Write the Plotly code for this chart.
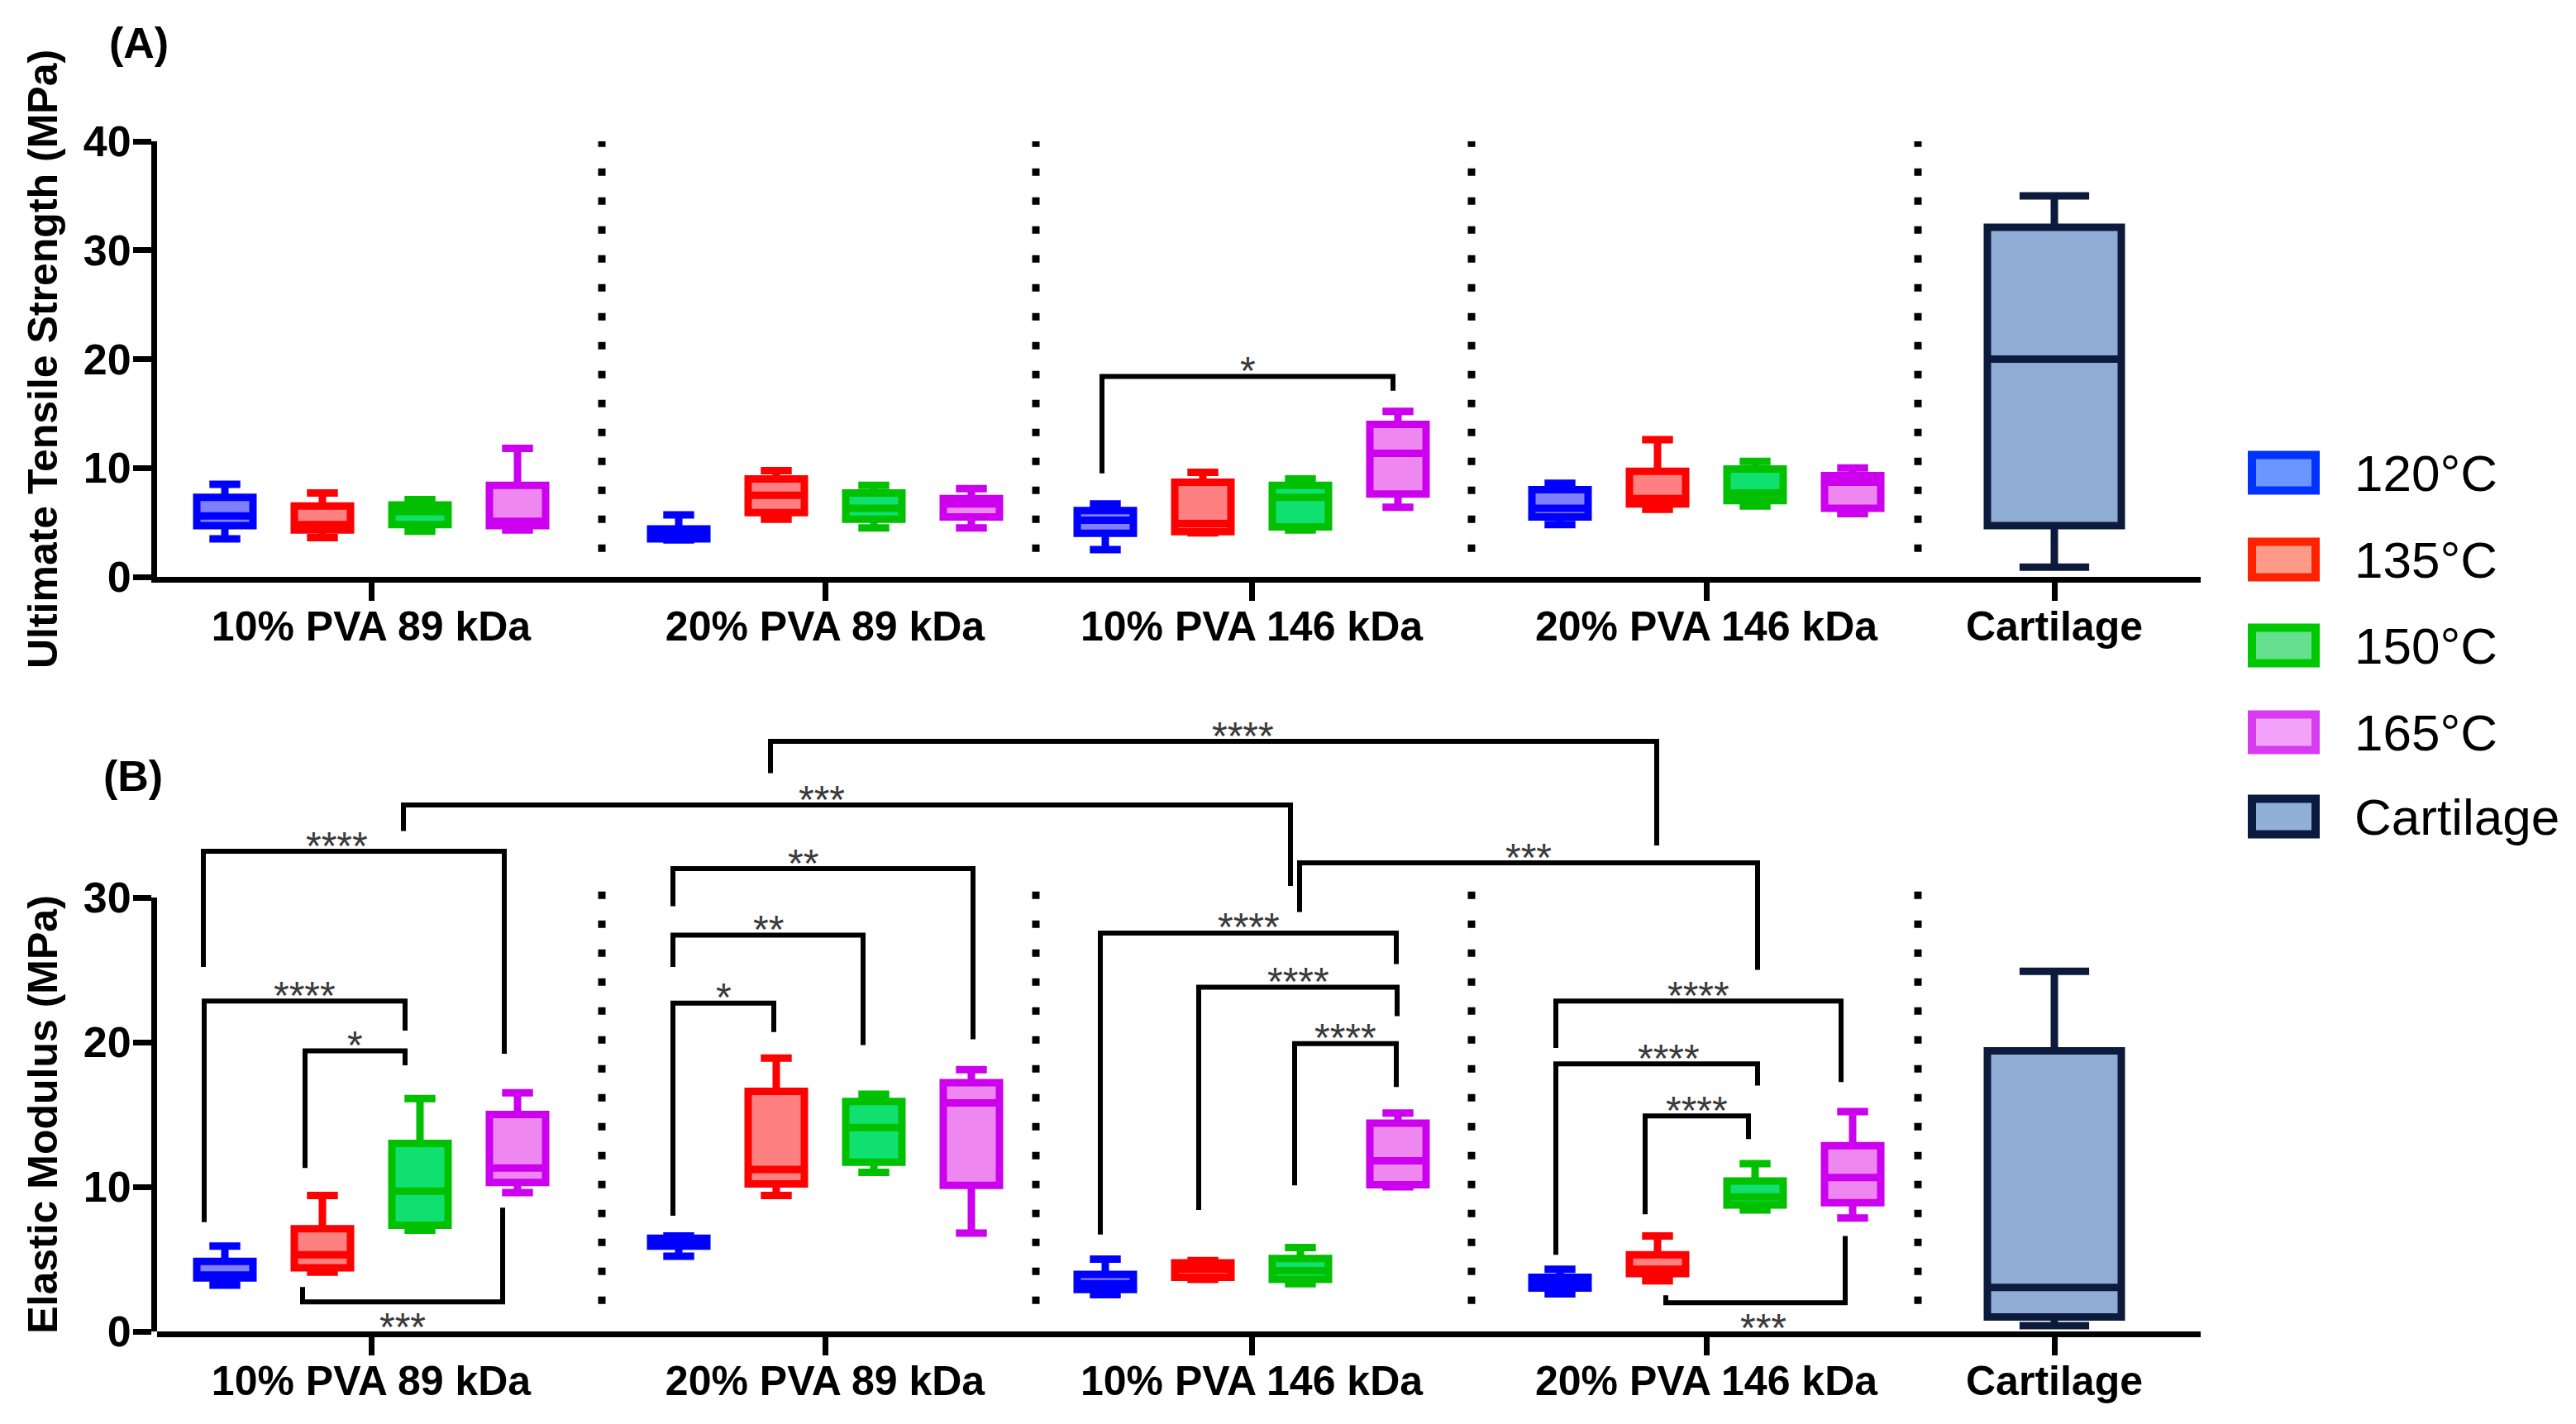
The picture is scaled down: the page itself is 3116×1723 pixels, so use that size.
import plotly.graph_objects as go

W, H = 3116, 1723

# ---------------- data ----------------
GROUPS = ["10% PVA 89 kDa", "20% PVA 89 kDa", "10% PVA 146 kDa", "20% PVA 146 kDa"]
TEMPS = ["120°C", "135°C", "150°C", "165°C"]

# Panel A: Ultimate Tensile Strength (MPa); rows = temperatures, cols = groups
UTS_MIN = [[3.5, 3.4, 2.5, 4.8], [3.6, 5.3, 4.05, 6.2], [4.2, 4.5, 4.3, 6.5], [4.3, 4.5, 6.4, 5.8]]
UTS_Q1 = [[4.7, 3.5, 4.0, 5.5], [4.3, 5.9, 4.15, 6.7], [4.8, 5.3, 4.6, 7.0], [4.7, 5.5, 7.6, 6.3]]
UTS_MED = [[5.6, 3.9, 5.2, 6.3], [4.8, 7.5, 4.9, 7.2], [6.0, 6.3, 7.3, 7.7], [5.1, 6.7, 11.35, 8.7]]
UTS_Q3 = [[7.3, 4.4, 6.1, 8.0], [6.5, 9.0, 8.7, 9.7], [6.6, 7.7, 8.4, 9.9], [8.4, 7.2, 14.0, 9.3]]
UTS_MAX = [[8.5, 5.7, 6.7, 8.6], [7.7, 9.75, 9.6, 12.6], [7.1, 8.4, 9.0, 10.6], [11.8, 8.1, 15.2, 10.0]]
UTS_CART = {"min": 0.9, "q1": 4.7, "med": 20.0, "q3": 32.1, "max": 35.0}

# Panel B: Elastic Modulus (MPa)
EM_MIN = [[3.2, 5.2, 2.55, 2.6], [4.1, 9.4, 3.6, 3.5], [7.0, 11.0, 3.3, 8.4], [9.6, 6.8, 10.0, 7.85]]
EM_Q1 = [[3.7, 5.9, 2.9, 3.0], [4.4, 10.2, 3.75, 4.0], [7.35, 11.7, 3.6, 8.75], [10.3, 10.1, 10.15, 8.9]]
EM_MED = [[3.9, 6.1, 3.3, 3.3], [5.3, 11.2, 4.3, 4.3], [9.7, 14.1, 4.2, 9.3], [11.3, 15.8, 11.8, 10.65]]
EM_Q3 = [[4.85, 6.45, 3.95, 3.75], [7.1, 16.6, 4.75, 5.3], [13.0, 15.9, 5.05, 10.4], [15.0, 17.2, 14.4, 12.85]]
EM_MAX = [[5.9, 6.6, 5.0, 4.3], [9.4, 18.9, 4.9, 6.6], [16.1, 16.4, 5.8, 11.6], [16.5, 18.1, 15.1, 15.2]]
EM_CART = {"min": 0.4, "q1": 1.0, "med": 3.05, "q3": 19.4, "max": 24.9}

# significance brackets: (groupA, boxA, groupB, boxB, bar level, leg end A, leg end B, label, side)
SIG_A = [(2, 0, 2, 3, 18.4, 9.5, 17.1, "*", "above")]
SIG_B = [
    (0, 0, 0, 3, 33.2, 25.2, 19.2, "****", "above"),
    (0, 0, 0, 2, 22.84, 7.56, 20.8, "****", "above"),
    (0, 1, 0, 2, 19.4, 11.3, 18.4, "*", "above"),
    (0, 1, 0, 3, 2.05, 3.07, 8.56, "***", "below"),
    (1, 0, 1, 3, 32.0, 29.4, 20.2, "**", "above"),
    (1, 0, 1, 2, 27.4, 25.2, 19.8, "**", "above"),
    (1, 0, 1, 1, 22.7, 8.0, 20.7, "*", "above"),
    (2, 0, 2, 3, 27.55, 6.7, 25.4, "****", "above"),
    (2, 1, 2, 3, 23.8, 8.4, 21.8, "****", "above"),
    (2, 2, 2, 3, 19.9, 10.1, 16.9, "****", "above"),
    (3, 0, 3, 3, 22.84, 19.6, 17.25, "****", "above"),
    (3, 0, 3, 2, 18.5, 5.3, 17.0, "****", "above"),
    (3, 1, 3, 2, 14.9, 8.1, 13.3, "****", "above"),
    (3, 1, 3, 3, 1.98, 2.5, 6.6, "***", "below"),
    (0, 2, 2, 2, 36.4, 34.6, 30.8, "***", "above"),
    (1, 1, 3, 1, 40.8, 38.6, 33.6, "****", "above"),
    (2, 2, 3, 2, 32.4, 29.0, 25.0, "***", "above"),
]

# ---------------- layout constants (pixels of the 3116x1723 page) ----------------
X_LEFT, X_RIGHT = 190, 2662
GROUP_X = [449, 998, 1514, 2064]
CART_X = 2485
BOX_OFFSETS = [-177, -59, 59, 177]
BOX_W = 68
CART_W = 162
SEP_X = [728, 1253, 1780, 2320]
A_Y0, A_Y40 = 698, 171
B_Y0, B_Y30 = 1611, 1086
B_TOP = 46
LEG_DX_A = [(-4, -6)]
LEG_DX_B = [(-26, -16), (-25, -18), (-21, -18), (-24, -18), (-7, 2), (-7, -13), (-7, -3),
            (-6, -2), (-5, -1), (-7, -2), (-5, -14), (-5, 3), (-15, -8), (10, -9),
            (-20, -12), (-7, -1), (-1, 3)]
STAR_DX_B = [-21, 0, 0, 0, -24, 0, 0, 0, 0, 0, 0, 14, 0, 9, -31, 35, 0]

LINE = ["#0000ff", "#ff0000", "#00c000", "#cc00ee"]
FILL = ["#8080ff", "#ff8080", "#10e070", "#ee88f0"]
CART_LINE, CART_FILL = "#0c1a3c", "#8fadd4"
LEG_LINE = ["#0033ff", "#ff2200", "#00c800", "#d83cf0", "#0a1a40"]
LEG_FILL = ["#6b96ff", "#ff9a88", "#66e090", "#f2a2f8", "#90b0d8"]
FONT = "Liberation Sans"
STAR_COLOR = "#3a3a3a"

fig = go.Figure()


def add_boxes(mins, q1s, meds, q3s, maxs, cart, xa, ya):
    for t in range(4):
        xs = [GROUP_X[g] + BOX_OFFSETS[t] for g in range(4)]
        fig.add_trace(go.Box(
            x=xs, q1=q1s[t], median=meds[t], q3=q3s[t],
            lowerfence=mins[t], upperfence=maxs[t],
            width=BOX_W, whiskerwidth=0.55, boxpoints=False,
            line=dict(color=LINE[t], width=9), fillcolor=FILL[t],
            name=TEMPS[t], showlegend=False, hoverinfo="skip",
            xaxis=xa, yaxis=ya))
    fig.add_trace(go.Box(
        x=[CART_X], q1=[cart["q1"]], median=[cart["med"]], q3=[cart["q3"]],
        lowerfence=[cart["min"]], upperfence=[cart["max"]],
        width=CART_W, whiskerwidth=0.52, boxpoints=False,
        line=dict(color=CART_LINE, width=9), fillcolor=CART_FILL,
        name="Cartilage", showlegend=False, hoverinfo="skip",
        xaxis=xa, yaxis=ya))


add_boxes(UTS_MIN, UTS_Q1, UTS_MED, UTS_Q3, UTS_MAX, UTS_CART, "x", "y")
add_boxes(EM_MIN, EM_Q1, EM_MED, EM_Q3, EM_MAX, EM_CART, "x2", "y2")
# an empty helper trace so that the visible 0-30 axis of panel B gets drawn
fig.add_trace(go.Scatter(x=[X_LEFT], y=[None], xaxis="x2", yaxis="y3", mode="lines",
                         showlegend=False, hoverinfo="skip"))

shapes = []
annotations = []


def box_x(g, b):
    return GROUP_X[g] + BOX_OFFSETS[b]


def add_brackets(sigs, legdx, stardx, xr, yr):
    for i, (ga, ba, gb, bb, yh, ya_, yb_, lab, side) in enumerate(sigs):
        x1 = box_x(ga, ba) + legdx[i][0]
        x2 = box_x(gb, bb) + legdx[i][1]
        shapes.append(dict(type="path", xref=xr, yref=yr,
                           path=f"M {x1},{ya_} L {x1},{yh} L {x2},{yh} L {x2},{yb_}",
                           line=dict(color="black", width=6)))
        annotations.append(dict(x=(x1 + x2) / 2 + stardx[i], y=yh, xref=xr, yref=yr,
                                text=lab, showarrow=False, xanchor="center", yanchor="middle",
                                yshift=7 if side == "above" else -30,
                                font=dict(family=FONT, size=48, color=STAR_COLOR)))


add_brackets(SIG_A, LEG_DX_A, [0], "x", "y")
add_brackets(SIG_B, LEG_DX_B, STAR_DX_B, "x2", "y2")

# dotted separators
for sx in SEP_X:
    shapes.append(dict(type="line", xref="x", yref="y", x0=sx, x1=sx, y0=2.3, y1=40,
                       line=dict(color="black", width=9, dash="9px,26px")))
    shapes.append(dict(type="line", xref="x2", yref="y2", x0=sx, x1=sx, y0=1.9, y1=31.6,
                       line=dict(color="black", width=9, dash="9px,26px")))

# legend (drawn)
LEG_Y = [572, 677, 781, 886, 988]
LEG_TXT = TEMPS + ["Cartilage"]
for i, ly in enumerate(LEG_Y):
    shapes.append(dict(type="rect", xref="paper", yref="paper",
                       x0=2724 / W, x1=2801 / W, y0=1 - (ly + 21.5) / H, y1=1 - (ly - 21.5) / H,
                       line=dict(color=LEG_LINE[i], width=10), fillcolor=LEG_FILL[i]))
    annotations.append(dict(x=2846 / W, y=1 - ly / H, xref="paper", yref="paper",
                            text=LEG_TXT[i], showarrow=False, xanchor="left", yanchor="middle",
                            font=dict(family=FONT, size=62, color="black")))

# panel labels
annotations.append(dict(x=168 / W, y=1 - 52 / H, xref="paper", yref="paper", text="<b>(A)</b>",
                        showarrow=False, xanchor="center", yanchor="middle",
                        font=dict(family=FONT, size=52, color="black")))
annotations.append(dict(x=161 / W, y=1 - 939 / H, xref="paper", yref="paper", text="<b>(B)</b>",
                        showarrow=False, xanchor="center", yanchor="middle",
                        font=dict(family=FONT, size=52, color="black")))

xdom = [X_LEFT / W, X_RIGHT / W]
tickfont_x = dict(family=FONT, size=50, color="black", weight="bold")
tickfont_y = dict(family=FONT, size=52, color="black", weight="bold")
common_x = dict(domain=xdom, range=[X_LEFT, X_RIGHT], showline=True, linewidth=7, linecolor="black",
                ticks="outside", ticklen=22, tickwidth=7, tickcolor="black", ticklabelstandoff=-12,
                tickvals=GROUP_X + [CART_X], ticktext=GROUPS + ["Cartilage"], automargin=False,
                tickfont=tickfont_x, showgrid=False, zeroline=False, fixedrange=True)
common_y = dict(showline=True, linewidth=7, linecolor="black", ticks="outside", ticklen=22,
                tickwidth=7, tickcolor="black", tickfont=tickfont_y, showgrid=False,
                ticklabelstandoff=-8, zeroline=False, fixedrange=True, automargin=False)

b_dom0 = (H - B_Y0) / H
b_unit = (B_Y0 - B_Y30) / 30.0
b_dom1 = (H - (B_Y0 - B_TOP * b_unit)) / H

fig.update_layout(
    width=W, height=H, margin=dict(l=0, r=0, t=0, b=0, autoexpand=False),
    paper_bgcolor="white", plot_bgcolor="rgba(0,0,0,0)",
    showlegend=False,
    xaxis=dict(**common_x, anchor="y"),
    yaxis=dict(**common_y, anchor="x", domain=[(H - A_Y0) / H, (H - A_Y40) / H], range=[0, 40],
               tickvals=[0, 10, 20, 30, 40],
               title=dict(text="Ultimate Tensile Strength (MPa)", standoff=18,
                          font=dict(family=FONT, size=50, color="black", weight="bold"))),
    xaxis2=dict(**common_x, anchor="y2"),
    yaxis2=dict(anchor="x2", domain=[b_dom0, b_dom1], range=[0, B_TOP], visible=False,
                fixedrange=True, showgrid=False, zeroline=False),
    yaxis3=dict(**common_y, anchor="x2", domain=[b_dom0, (H - B_Y30) / H], range=[0, 30],
                autorange=False, tickvals=[0, 10, 20, 30],
                title=dict(text="Elastic Modulus (MPa)", standoff=18,
                           font=dict(family=FONT, size=50, color="black", weight="bold"))),
    shapes=shapes, annotations=annotations,
)

fig.write_html("out.html", config={"displayModeBar": False},
               post_script="document.body.style.margin='0';document.body.style.overflow='hidden';")
